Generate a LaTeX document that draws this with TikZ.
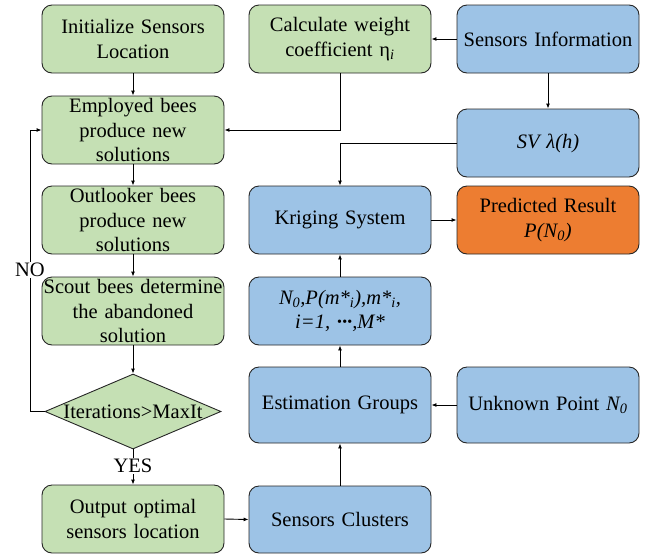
\documentclass[tikz,border=0pt]{standalone}
\usepackage{fontspec}
\setmainfont{Liberation Serif}
\usetikzlibrary{shapes.geometric,arrows.meta}
\definecolor{gfill}{HTML}{C5E0B4}
\definecolor{bfill}{HTML}{9DC3E6}
\definecolor{ofill}{HTML}{ED7D31}
\definecolor{edge}{HTML}{262626}
\begin{document}
\begin{tikzpicture}[x=1pt,y=-1pt,
  font=\fontsize{20.5}{24.5}\selectfont,
  box/.style={draw=edge,line width=0.9pt,rounded corners=10pt,minimum width=178pt,minimum height=68pt,inner sep=0pt,align=center,text width=182pt},
  gbox/.style={box,fill=gfill},
  bbox/.style={box,fill=bfill},
  obox/.style={box,fill=ofill},
  arr/.style={draw=black,line width=0.9pt,-{Latex[length=5pt,width=4pt]}},
  lbl/.style={fill=white,inner sep=1pt}]
\useasboundingbox (0,0) rectangle (645,555);
% left column
\node[gbox] (init) at (133,39) {Initialize Sensors\\Location};
\node[gbox] (emp) at (133,130) {Employed bees\\produce new\\solutions};
\node[gbox] (out) at (133,220) {Outlooker bees\\produce new\\solutions};
\node[gbox] (scout) at (133,311) {Scout bees determine\\the abandoned\\solution};
\node[draw=edge,line width=0.9pt,fill=gfill,shape=diamond,minimum width=176pt,minimum height=75pt,inner sep=0pt] (dia) at (133,411.5) {};
\node (diat) at (133,411.5) {Iterations>MaxIt};
\node[gbox] (outp) at (133,519) {Output optimal\\sensors location};
% middle column
\node[gbox] (calc) at (340,39) {Calculate weight\\coefficient η\textsubscript{\textit{i}}};
\node[bbox] (krig) at (340,220) {Kriging System};
\node[bbox] (nbox) at (340,311) {\textit{N\textsubscript{0},P(m*\textsubscript{i}),m*\textsubscript{i},}\\\textit{i=1, {\bfseries ···},M*}};
\node[bbox,minimum height=76pt] (est) at (340,405) {Estimation Groups};
\node[bbox,minimum height=67pt] (clus) at (340,519.5) {Sensors Clusters};
% right column
\node[bbox] (info) at (548,39) {Sensors Information};
\node[bbox] (sv) at (548,143) {\textit{SV λ(h)}};
\node[obox] (pred) at (548,220) {Predicted Result\\\textit{P(N\textsubscript{0})}};
\node[bbox,minimum height=76pt] (unk) at (548,405) {Unknown Point \textit{N\textsubscript{0}}};
% connectors
\draw[arr] (init.south) -- (emp.north);
\draw[arr] (calc.south) |- (emp.east);
\draw[arr] (info.west) -- (calc.east);
\draw[arr] (info.south) -- (sv.north);
\draw[arr] (sv.west) -| (krig.north);
\draw[arr] (emp.south) -- (out.north);
\draw[arr] (out.south) -- (scout.north);
\draw[arr] (scout.south) -- (dia.north);
\coordinate (nocorner) at (30,411.5);
\draw[arr] (dia.west) -- (nocorner) |- (emp.west);
\node[lbl] (no) at (30,270) {NO};
\draw[arr] (dia.south) -- (outp.north);
\node[lbl] (yes) at (133,466) {YES};
\draw[arr] (outp.east) -- (clus.west);
\draw[arr] (clus.north) -- (est.south);
\draw[arr] (unk.west) -- (est.east);
\draw[arr] (est.north) -- (nbox.south);
\draw[arr] (nbox.north) -- (krig.south);
\draw[arr] (krig.east) -- (pred.west);
\end{tikzpicture}
\end{document}
